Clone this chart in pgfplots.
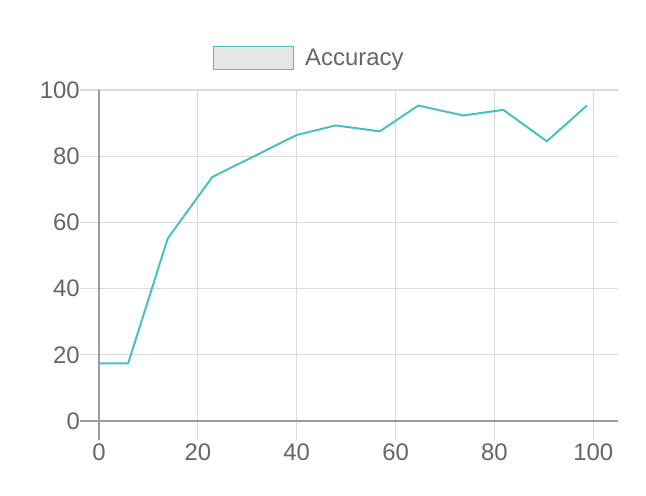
\documentclass[border=0pt]{standalone}
\usepackage{pgfplots}
\pgfplotsset{compat=1.18}
\usepackage{fontspec}
\setmainfont{Liberation Sans}
\definecolor{teal1}{RGB}{75,192,192}
\definecolor{gridc}{RGB}{218,218,218}
\definecolor{axc}{RGB}{155,155,155}
\definecolor{txt}{RGB}{102,102,102}
\definecolor{boxfill}{RGB}{230,230,230}
\begin{document}
\begin{tikzpicture}
\path[use as bounding box] (-99bp,-75bp) rectangle (547bp,421bp);
\begin{axis}[
  at={(0,0)}, anchor=south west,
  scale only axis,
  width=519bp, height=331bp,
  xmin=0, xmax=105, ymin=0, ymax=100,
  xtick={20,40,60,80,100},
  ytick={20,40,60,80,100},
  extra x ticks={0}, extra y ticks={0},
  extra tick style={grid=none, every tick/.style={axc, line width=1.2bp}},
  grid=major,
  grid style={gridc, line width=1.2bp},
  axis line style={-, axc, line width=1.2bp},
  axis x line*=bottom, axis y line*=left,
  tick align=outside,
  tickwidth=19bp,
  xtick pos=bottom, ytick pos=left,
  every tick/.style={gridc, line width=1.2bp},
  /pgf/number format/assume math mode=true,
  ticklabel style={font=\fontsize{24}{27}\selectfont, text=txt},
  xticklabel style={inner sep=0bp, yshift=-4bp},
  yticklabel style={inner sep=0bp},
  legend style={at={(rel axis cs:0.403,1.097)}, anchor=center, draw=none, fill=none,
    font=\fontsize{24}{27}\selectfont, text=txt, column sep=0bp,
    nodes={inner sep=0pt}},
  legend image code/.code={\draw[fill=boxfill, draw=teal1, line width=1.5bp] (0bp,-11.5bp) rectangle (80bp,11.5bp);},
  legend cell align=left,
  /tikz/every odd column/.append style={column sep=11bp},
]
\addplot[teal1, line width=2bp] coordinates {
(0,17.4) (5.9,17.4) (13.9,55.1) (22.9,73.7) (31.4,80.0) (40,86.4) (47.9,89.3) (56.8,87.5) (64.6,95.3) (73.7,92.3) (81.8,94.0) (90.6,84.5) (98.7,95.3)
};
\addlegendentry{Accuracy}
\end{axis}
\end{tikzpicture}
\end{document}
